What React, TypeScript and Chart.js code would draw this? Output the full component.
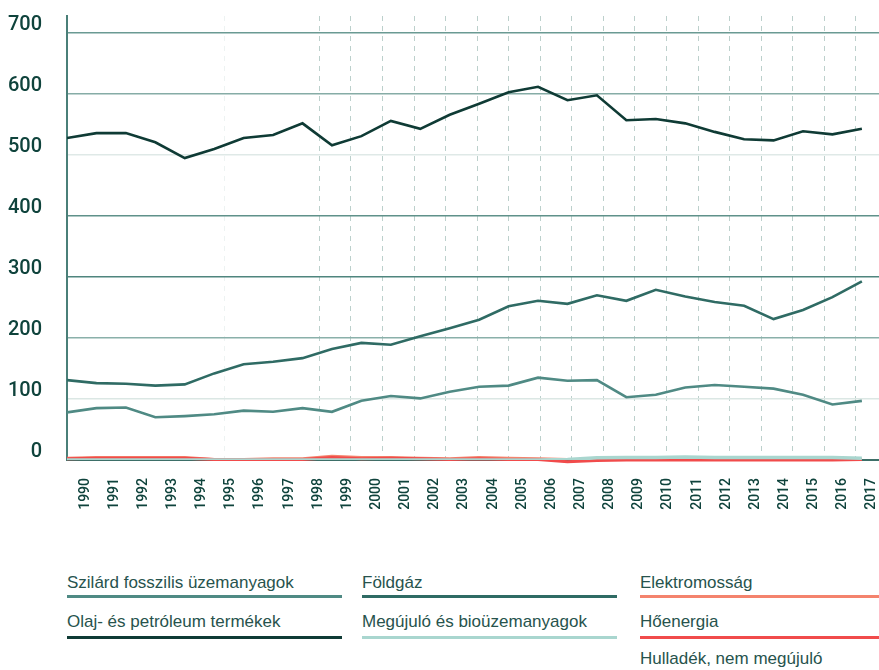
import React, { useEffect, useRef } from "react";
import { Chart, registerables } from "chart.js";

Chart.register(...registerables);

const years = [1990, 1991, 1992, 1993, 1994, 1995, 1996, 1997, 1998, 1999, 2000, 2001, 2002, 2003, 2004, 2005, 2006, 2007, 2008, 2009, 2010, 2011, 2012, 2013, 2014, 2015, 2016, 2017];

const oil = [528, 536, 536, 521, 495, 510, 528, 533, 552, 516, 531, 556, 543, 566, 584, 603, 612, 590, 598, 557, 559, 552, 538, 526, 524, 539, 534, 543];
const gas = [131, 126, 125, 122, 124, 142, 157, 161, 167, 182, 192, 189, 203, 216, 230, 252, 261, 256, 270, 261, 279, 268, 259, 253, 231, 246, 267, 293];
const solid = [78, 85, 86, 70, 72, 75, 81, 79, 85, 79, 97, 105, 101, 112, 120, 122, 135, 130, 131, 103, 107, 119, 123, 120, 117, 107, 91, 97];
const renewables = [0, 0, 0, 0, 0, 0, 0, 0, 0, 0, 0, 0, 0, 0, 0, 0, 0, 1, 3.5, 4, 4, 5, 4, 4, 4, 4, 4, 3];
const heat = [2, 3, 3, 3, 3, 1, 1, 1, 1, 4, 2, 3, 2, 1, 2, 1, 1, -3, -1, 0, 0, 0, 0, 0, 0, 0, 0, 1];
const electricity = [3, 4, 4, 4, 4, 1, 1, 2, 2, 6, 4, 4, 3, 2, 4, 3, 2, 1, 0, 0, 0, 0, 0, 0, 0, 0, 0, 1];

const yTicks = [0, 100, 200, 300, 400, 500, 600, 700];
const gridMarks = [5, 8, 9, 10, 11, 12, 13, 14, 15, 16, 17, 18, 19, 20, 21, 22, 23, 24, 25];

const TICKFONT = 'Roboto, "Liberation Sans", sans-serif';
const SANS = '"Liberation Sans", Arial, sans-serif';

const C_OIL = "#0f3b35";
const C_GAS = "#2f6b64";
const C_SOLID = "#4f8a84";
const C_REN = "#a9d6cf";
const C_ELEC = "#f4836d";
const C_HEAT = "#f14b4b";

const yGridColor: Record<number, string> = {
  0: "#3d6f68",
  100: "#dbe7e4",
  200: "#8ab0aa",
  300: "#4f857e",
  400: "#5f918a",
  500: "#dfe9e7",
  600: "#86aca6",
  700: "#6a9a93",
};

const legendItems = [
  { label: "Szilárd fosszilis üzemanyagok", color: C_SOLID, col: 0, row: 0 },
  { label: "Olaj- és petróleum termékek", color: C_OIL, col: 0, row: 1 },
  { label: "Földgáz", color: C_GAS, col: 1, row: 0 },
  { label: "Megújuló és bioüzemanyagok", color: C_REN, col: 1, row: 1 },
  { label: "Elektromosság", color: C_ELEC, col: 2, row: 0 },
  { label: "Hőenergia", color: C_HEAT, col: 2, row: 1 },
  { label: "Hulladék, nem megújuló", color: "transparent", col: 2, row: 2 },
];

const colX = [67, 362, 640];
const colW = [275, 255, 239];
const rowTextTop = [573, 611.5, 649];
const rowLineTop = [595.2, 636];

function toPoints(arr: number[]) {
  return arr.map((v, i) => ({ x: years[i], y: v }));
}

const noPad = (scale: any) => {
  scale.paddingTop = 0;
  scale.paddingBottom = 0;
  scale.paddingLeft = 0;
  scale.paddingRight = 0;
};

export default function App() {
  const ref = useRef<HTMLCanvasElement | null>(null);

  useEffect(() => {
    if (!ref.current) return;
    const ds = (label: string, data: number[], color: string, width: number, extra: any = {}) => ({
      label,
      data: toPoints(data),
      borderColor: color,
      backgroundColor: color,
      borderWidth: width,
      pointRadius: 0,
      tension: 0,
      fill: false,
      xAxisID: "x",
      yAxisID: "y",
      ...extra,
    });
    const chart = new Chart(ref.current, {
      type: "line",
      data: {
        datasets: [
          ds("Megújuló és bioüzemanyagok", renewables, C_REN, 3.5),
          ds("Hőenergia", heat, C_HEAT, 3, { clip: false }),
          ds("Elektromosság", electricity, C_ELEC, 3),
          ds("Szilárd fosszilis üzemanyagok", solid, C_SOLID, 2.6),
          ds("Földgáz", gas, C_GAS, 2.6),
          ds("Olaj- és petróleum termékek", oil, C_OIL, 2.6),
        ],
      },
      options: {
        responsive: false,
        animation: false,
        devicePixelRatio: 1,
        layout: { padding: { top: 16, left: 0, right: 0, bottom: 0 } },
        plugins: { legend: { display: false }, tooltip: { enabled: false } },
        scales: {
          x: {
            type: "linear",
            display: false,
            min: 1990,
            max: 1990 + 812 / 29.44,
          },
          xg: {
            type: "linear",
            position: "bottom",
            weight: 0,
            min: 0,
            max: 812 / 31.55,
            afterBuildTicks: (scale: any) => {
              scale.ticks = gridMarks.map((v) => ({ value: v }));
            },
            afterFit: (scale: any) => {
              scale.height = 0;
              noPad(scale);
            },
            ticks: { display: false },
            grid: {
              drawTicks: false,
              lineWidth: 1,
              color: (ctx: any) => (ctx.tick && ctx.tick.value === 5 ? "#edf3f2" : "#bcd0cc"),
            },
            border: { display: false, dash: [5, 5] },
          },
          xl: {
            type: "linear",
            position: "bottom",
            weight: 1,
            min: 1990 - 18 / 29.148,
            max: 1990 - 18 / 29.148 + 812 / 29.148,
            afterBuildTicks: (scale: any) => {
              scale.ticks = years.map((v) => ({ value: v }));
            },
            afterFit: (scale: any) => {
              scale.height = 60;
              noPad(scale);
            },
            grid: { display: false, drawTicks: false },
            border: { display: true, color: "#3d6f68", width: 2 },
            ticks: {
              autoSkip: false,
              minRotation: 90,
              maxRotation: 90,
              padding: 18,
              color: "#0f433c",
              font: { family: TICKFONT, size: 14, weight: "500" },
              callback: (v: any) => String(v),
            },
          },
          y: {
            type: "linear",
            min: 0,
            max: 728,
            afterBuildTicks: (scale: any) => {
              scale.ticks = yTicks.map((v) => ({ value: v }));
            },
            afterFit: (scale: any) => {
              scale.width = 67;
              noPad(scale);
            },
            grid: {
              drawTicks: false,
              lineWidth: 1.5,
              color: (ctx: any) => (ctx.tick ? yGridColor[ctx.tick.value] || "#cccccc" : "#cccccc"),
            },
            border: { display: true, color: "#4a7f78", width: 2 },
            ticks: {
              padding: 25,
              labelOffset: -8,
              color: "#0f433c",
              font: { family: TICKFONT, size: 20, weight: "500" },
              callback: (v: any) => String(v),
            },
          },
        },
      },
    } as any);
    return () => chart.destroy();
  }, []);

  return (
    <div style={{ position: "fixed", left: 0, top: 0, width: 879, height: 670, background: "#ffffff", overflow: "hidden" }}>
      <canvas ref={ref} width={879} height={520} style={{ position: "absolute", left: 0, top: 0, width: 879, height: 520 }} />
      {legendItems.map((it, i) => (
        <React.Fragment key={i}>
          <div
            style={{
              position: "absolute",
              left: colX[it.col],
              top: rowTextTop[it.row],
              fontFamily: SANS,
              fontSize: 17,
              lineHeight: "20px",
              color: "#27534d",
              whiteSpace: "nowrap",
            }}
          >
            {it.label}
          </div>
          {it.row < 2 && (
            <div
              style={{
                position: "absolute",
                left: colX[it.col],
                top: rowLineTop[it.row],
                width: colW[it.col],
                height: 3,
                background: it.color,
              }}
            />
          )}
        </React.Fragment>
      ))}
    </div>
  );
}
